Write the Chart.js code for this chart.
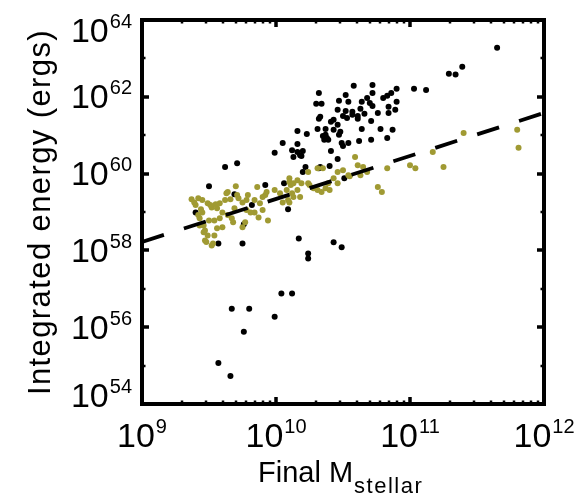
<!DOCTYPE html>
<html>
<head>
<meta charset="utf-8">
<script src="https://cdn.jsdelivr.net/npm/chart.js@4.4.0/dist/chart.umd.min.js"></script>
<style>
  html, body { margin: 0; padding: 0; background: #fff; }
  #wrap { width: 577px; height: 500px; }
</style>
</head>
<body>
<div id="wrap"><canvas id="chart" width="577" height="500"></canvas></div>
<script>
// log10 values (mass in Msun, energy in ergs)
const blackLogMass = [
  11.65, 11.29, 11.34, 11.39, 11.03, 11.12, 10.90, 10.32, 10.58, 10.72,
  10.72, 10.52, 10.47, 10.54, 10.68, 10.64, 10.70, 10.80, 10.83, 10.86,
  10.90, 10.30, 10.34, 10.72, 10.84, 10.46, 10.52, 10.57, 10.63, 10.76,
  10.89, 10.84, 10.33, 10.32, 10.43, 10.41, 10.50, 10.53, 10.57, 10.61,
  10.66, 10.61, 10.71, 10.46, 10.16, 10.23, 10.31, 10.37, 10.43, 10.48,
  10.47, 10.64, 10.78, 10.87, 10.35, 10.38, 10.39, 10.36, 10.37, 10.49,
  10.50, 10.54, 10.62, 10.71, 10.83, 10.05, 10.16, 10.12, 10.16, 10.20,
  10.13, 10.19, 9.99, 10.41, 10.46, 10.22, 10.33, 10.40, 9.62, 9.71,
  9.50, 9.92, 10.06, 10.20, 10.32, 9.69, 10.09, 9.82, 9.76, 9.40,
  9.57, 9.75, 10.17, 10.43, 10.49, 10.24, 10.24, 10.04, 10.12, 9.67,
  9.80, 9.99, 9.76, 9.57, 9.66, 10.51, 10.18
];
const blackLogEnergy = [
  63.28, 62.60, 62.58, 62.78, 62.21, 62.18, 62.21, 62.10, 62.29, 62.31,
  62.10, 62.05, 61.90, 61.87, 61.97, 61.87, 61.84, 61.97, 62.03, 62.10,
  61.87, 61.82, 61.82, 61.76, 61.74, 61.66, 61.63, 61.61, 61.69, 61.58,
  61.66, 61.58, 61.48, 61.43, 61.40, 61.35, 61.50, 61.45, 61.53, 61.43,
  61.56, 61.50, 61.37, 61.27, 61.11, 61.03, 61.16, 61.16, 61.14, 61.09,
  61.01, 61.16, 61.16, 61.14, 60.98, 60.93, 60.88, 60.88, 61.01, 60.80,
  60.72, 60.80, 60.85, 60.88, 60.93, 60.80, 60.77, 60.61, 60.56, 60.59,
  60.43, 60.46, 60.54, 60.59, 60.38, 60.17, 60.17, 60.20, 60.17, 60.27,
  59.67, 59.70, 59.75, 60.04, 60.14, 59.46, 59.07, 59.18, 58.68, 58.99,
  58.18, 58.18, 58.31, 58.21, 58.08, 57.92, 57.79, 56.88, 56.88, 56.48,
  56.48, 56.27, 55.88, 55.07, 54.73, 59.88, 60.48
];
const oliveLogMass = [
  9.37, 9.42, 9.45, 9.49, 9.52, 9.56, 9.58, 9.62, 9.64, 9.66,
  9.71, 9.72, 9.78, 9.86, 9.84, 9.88, 9.92, 9.99, 10.03, 10.08,
  10.12, 10.11, 10.05, 9.45, 9.43, 9.46, 9.47, 9.49, 9.47, 9.53,
  9.54, 9.56, 9.60, 9.60, 9.64, 9.68, 9.69, 9.77, 9.75, 9.78,
  9.84, 9.87, 9.94, 9.90, 9.52, 9.48, 9.44, 9.42, 9.46, 9.51,
  9.63, 9.70, 9.67, 9.81, 9.79, 9.75, 9.93, 9.90, 10.10, 10.16,
  10.10, 10.13, 10.18, 10.16, 10.13, 10.10, 10.09, 10.24, 10.31, 10.35,
  10.24, 10.28, 10.31, 10.34, 10.37, 10.39, 10.43, 10.46, 10.46, 10.50,
  10.54, 10.59, 10.61, 10.65, 10.68, 10.76, 10.79, 10.83, 11.00, 11.04,
  11.17, 11.25, 11.40, 11.80, 11.81, 10.19, 10.25, 10.40, 10.55, 10.63,
  9.40, 9.43, 9.50, 9.54, 9.58, 9.39, 9.55
];
const oliveLogEnergy = [
  59.33, 59.36, 59.31, 59.23, 59.12, 59.10, 59.23, 59.31, 59.52, 59.33,
  59.44, 59.36, 59.31, 59.65, 59.31, 59.23, 59.44, 59.57, 59.49, 59.57,
  59.49, 59.70, 59.25, 58.99, 58.84, 58.65, 58.52, 58.39, 58.26, 58.18,
  58.78, 58.58, 58.60, 58.99, 58.92, 58.73, 59.10, 58.73, 58.60, 59.05,
  58.99, 58.86, 58.78, 59.05, 58.13, 58.22, 59.07, 58.92, 58.47, 59.18,
  59.49, 59.67, 58.84, 58.99, 59.44, 59.25, 59.52, 59.39, 59.78, 59.83,
  59.25, 59.39, 59.39, 59.57, 59.75, 59.88, 59.31, 60.04, 60.14, 60.14,
  59.75, 59.62, 59.57, 59.52, 59.62, 59.75, 59.88, 59.75, 60.04, 60.09,
  59.96, 60.43, 60.22, 60.17, 60.04, 59.65, 59.52, 60.14, 60.22, 60.14,
  60.56, 60.17, 61.06, 61.14, 60.67, 59.75, 59.70, 59.57, 59.93, 59.96,
  59.18, 58.65, 58.78, 58.39, 58.84, 59.25, 59.20
];
// dashed fit line end points
const fitMass = [1e9, 1e12];
const fitEnergy = [1.66e58, 3.8e61];
const xTickExps = [9, 10, 11, 12];
const yTickExps = [54, 56, 58, 60, 62, 64];

const FONT = '"Liberation Sans", Arial, Helvetica, sans-serif';
const toPoints = (lx, ly) => lx.map((v, i) => ({ x: 10 ** v, y: 10 ** ly[i] }));

// frame, inward ticks, power-of-ten labels and titles
const axesBox = {
  id: 'axesBox',
  afterDraw(chart) {
    const { ctx, chartArea: a, scales } = chart;
    const xs = scales.x, ys = scales.y;
    ctx.save();
    ctx.strokeStyle = '#000';
    ctx.fillStyle = '#000';
    ctx.lineCap = 'butt';

    // x ticks (decades + minor 2..9)
    for (let e = 9; e <= 12; e++) {
      for (let k = 1; k <= (e < 12 ? 9 : 1); k++) {
        const px = Math.round(xs.getPixelForValue(k * 10 ** e));
        const len = k === 1 ? 7 : 3.5;
        ctx.lineWidth = k === 1 ? 3.5 : 2.5;
        ctx.beginPath();
        ctx.moveTo(px, a.bottom); ctx.lineTo(px, a.bottom - len);
        ctx.moveTo(px, a.top); ctx.lineTo(px, a.top + len);
        ctx.stroke();
      }
    }
    // y ticks every decade, longer on labelled ones
    for (let e = 54; e <= 64; e++) {
      const py = Math.round(ys.getPixelForValue(10 ** e));
      const len = e % 2 === 0 ? 7 : 3.5;
      ctx.lineWidth = e % 2 === 0 ? 3.5 : 2.5;
      ctx.beginPath();
      ctx.moveTo(a.left, py); ctx.lineTo(a.left + len, py);
      ctx.moveTo(a.right, py); ctx.lineTo(a.right - len, py);
      ctx.stroke();
    }

    ctx.lineWidth = 4;
    ctx.strokeRect(a.left, a.top, a.right - a.left, a.bottom - a.top);

    const baseFont = '34px ' + FONT;
    const expFont = '20px ' + FONT;
    const powWidth = (exp) => {
      ctx.font = baseFont;
      const wb = ctx.measureText('10').width;
      ctx.font = expFont;
      return [wb, ctx.measureText(String(exp)).width];
    };
    const drawPow = (exp, left, base) => {
      const [wb] = powWidth(exp);
      ctx.textAlign = 'left';
      ctx.textBaseline = 'alphabetic';
      ctx.font = baseFont;
      ctx.fillText('10', left, base);
      ctx.font = expFont;
      ctx.fillText(String(exp), left + wb + 1, base - 14);
    };

    xTickExps.forEach((e) => {
      const px = xs.getPixelForValue(10 ** e);
      const [wb, we] = powWidth(e);
      drawPow(e, px - (wb + 1 + we) / 2, 447);
    });
    yTickExps.forEach((e) => {
      let py = ys.getPixelForValue(10 ** e);
      py = Math.min(Math.max(py, a.top + 10), a.bottom - 9);
      const [wb, we] = powWidth(e);
      drawPow(e, 132 - (wb + 1 + we), py + 11.5);
    });

    // y title
    ctx.save();
    ctx.translate(50, 212);
    ctx.rotate(-Math.PI / 2);
    ctx.font = '31px ' + FONT;
    ctx.letterSpacing = '1.4px';
    ctx.textAlign = 'center';
    ctx.textBaseline = 'alphabetic';
    ctx.fillText('Integrated energy (ergs)', 0, 0);
    ctx.restore();

    // x title with subscript
    ctx.textAlign = 'left';
    ctx.textBaseline = 'alphabetic';
    ctx.font = '29px ' + FONT;
    ctx.fillText('Final M', 258, 482);
    const w = ctx.measureText('Final M').width;
    ctx.font = '22px ' + FONT;
    ctx.letterSpacing = '1.5px';
    ctx.fillText('stellar', 258 + w + 1, 493);
    ctx.restore();
  }
};

new Chart(document.getElementById('chart'), {
  type: 'scatter',
  data: {
    datasets: [
      {
        type: 'line',
        data: fitMass.map((m, i) => ({ x: m, y: fitEnergy[i] })),
        borderColor: '#000',
        borderWidth: 3.8,
        borderDash: [23, 21],
        pointRadius: 0,
        showLine: true,
        fill: false,
        order: 0
      },
      {
        data: toPoints(oliveLogMass, oliveLogEnergy),
        backgroundColor: '#a09a33',
        pointRadius: 3,
        borderWidth: 0,
        order: 1
      },
      {
        data: toPoints(blackLogMass, blackLogEnergy),
        backgroundColor: '#000',
        pointRadius: 3,
        borderWidth: 0,
        order: 2
      }
    ]
  },
  options: {
    responsive: false,
    animation: false,
    devicePixelRatio: 1,
    layout: { padding: { left: 142, right: 33, top: 20, bottom: 96 } },
    plugins: {
      legend: { display: false },
      tooltip: { enabled: false }
    },
    scales: {
      x: { type: 'logarithmic', min: 1e9, max: 1e12, display: false },
      y: { type: 'logarithmic', min: 1e54, max: 1e64, display: false }
    }
  },
  plugins: [axesBox]
});
</script>
</body>
</html>
